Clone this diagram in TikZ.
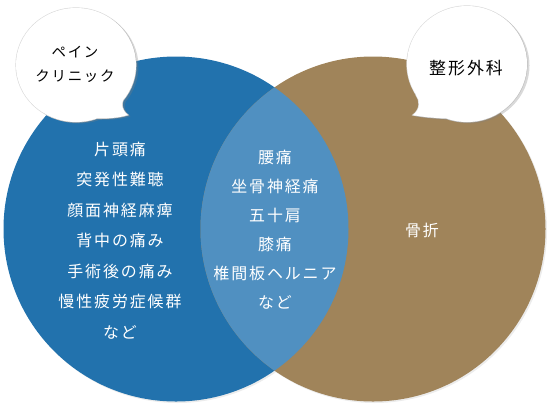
\documentclass[tikz,border=0pt]{standalone}
\usepackage{fontspec}
\setmainfont{Noto Sans CJK JP}
\newfontfamily\jpfont[LetterSpace=12]{Noto Sans CJK JP}
\usepackage{tikz}
\usetikzlibrary{shadows, positioning}

\definecolor{painblue}{HTML}{2272AD}
\definecolor{bothblue}{HTML}{5090C1}
\definecolor{orthobrown}{HTML}{A0845A}

\tikzset{
  circshadow/.style={drop shadow={shadow xshift=1.5bp, shadow yshift=-1.5bp, opacity=0.15}},
  bubble/.style={fill=white, drop shadow={shadow xshift=2.5bp, shadow yshift=-1.5bp, opacity=0.3}},
  bubbleedge/.style={draw=black!15, line width=1.2bp},
  listtext/.style={text=white, inner sep=0pt, font=\jpfont\fontsize{16}{19}\selectfont},
  bubbletext/.style={text=black, inner sep=0pt, align=center}
}

\begin{document}
\begin{tikzpicture}[x=1bp, y=-1bp]
  \useasboundingbox (0,0) rectangle (554,411);

  % 円
  \fill[painblue, circshadow] (176,229) circle (172.5);
  \fill[orthobrown, circshadow] (373,229) circle (172.5);
  \begin{scope}
    \clip (176,229) circle (172.5);
    \fill[bothblue] (373,229) circle (172.5);
  \end{scope}

  % 吹き出し（ペインクリニック）
  \draw[bubbleedge] (76,65) ellipse [x radius=60, y radius=57]
        (127,95) .. controls (121,100) and (120,109) .. (128,115)
        .. controls (118,118) and (108,118.5) .. (97,118.4);
  \path[bubble] (76,65) ellipse [x radius=60, y radius=57]
        (76,65) -- (127,95) .. controls (121,100) and (120,109) .. (128,115)
        .. controls (118,118) and (108,118.5) .. (97,118.4) -- cycle;

  % 吹き出し（整形外科）
  \draw[bubbleedge] (467,64) ellipse [x radius=60, y radius=58]
        (446.5,118.5) .. controls (435,118) and (422,117) .. (413,115)
        .. controls (421,109) and (420,100) .. (416,95);
  \path[bubble] (467,64) ellipse [x radius=60, y radius=58]
        (467,64) -- (446.5,118.5) .. controls (435,118) and (422,117) .. (413,115)
        .. controls (421,109) and (420,100) .. (416,95) -- cycle;

  \node[bubbletext, font=\jpfont\fontsize{14.5}{24}\selectfont] (paintitle) at (75,64) {ペイン\\クリニック};
  \node[bubbletext, font=\jpfont\fontsize{17}{20}\selectfont] (orthotitle) at (466,68) {整形外科};

  % 項目
  \foreach \t [count=\i] in {片頭痛, 突発性難聴, 顔面神経麻痺, 背中の痛み, 手術後の痛み, 慢性疲労症候群, など} {
    \node[listtext] (pain\i) at (120, {118.5+30.5*\i}) {\t};
  }
  \foreach \t [count=\i] in {腰痛, 坐骨神経痛, 五十肩, 膝痛, 椎間板ヘルニア, など} {
    \node[listtext] (both\i) at (275, {128+29*\i}) {\t};
  }
  \node[listtext] (ortho1) at (422,230) {骨折};
\end{tikzpicture}
\end{document}
